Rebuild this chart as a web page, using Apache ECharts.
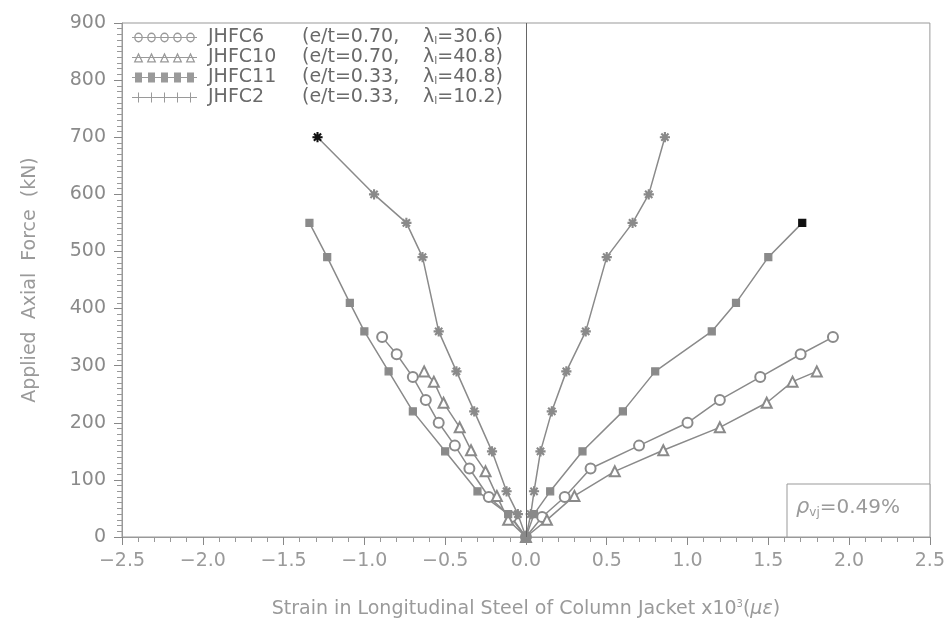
<!DOCTYPE html>
<html>
<head>
<meta charset="utf-8">
<script src="https://cdn.jsdelivr.net/npm/echarts@6/dist/echarts.min.js"></script>
<style>
  html, body { margin: 0; padding: 0; background: #fff; }
  #chart { width: 948px; height: 624px; }
</style>
</head>
<body>
<div id="chart"></div>
<script>
// specimens
const names = ['JHFC6', 'JHFC10', 'JHFC11', 'JHFC2']
const eRatio = ['0.70', '0.70', '0.33', '0.33']
const lambda = ['30.6', '40.8', '40.8', '10.2']

// load steps (kN) and strains (x10^3) for left / right gauges
const loadJHFC6 = [0, 35, 70, 120, 160, 200, 240, 280, 320, 350]
const leftJHFC6 = [0, -0.09, -0.23, -0.35, -0.44, -0.54, -0.62, -0.70, -0.80, -0.89]
const rightJHFC6 = [0, 0.10, 0.24, 0.40, 0.70, 1.00, 1.20, 1.45, 1.70, 1.90]

const loadJHFC10 = [0, 30, 72, 115, 152, 192, 235, 272, 290]
const leftJHFC10 = [0, -0.11, -0.18, -0.25, -0.34, -0.41, -0.51, -0.57, -0.63]
const rightJHFC10 = [0, 0.13, 0.30, 0.55, 0.85, 1.20, 1.49, 1.65, 1.80]

const loadJHFC11 = [0, 40, 80, 150, 220, 290, 360, 410, 490, 550]
const leftJHFC11 = [0, -0.11, -0.30, -0.50, -0.70, -0.85, -1.00, -1.09, -1.23, -1.34]
const rightJHFC11 = [0, 0.05, 0.15, 0.35, 0.60, 0.80, 1.15, 1.30, 1.50, 1.71]

const loadJHFC2 = [0, 40, 80, 150, 220, 290, 360, 490, 550, 600, 700]
const leftJHFC2 = [0, -0.05, -0.12, -0.21, -0.32, -0.43, -0.54, -0.64, -0.74, -0.94, -1.29]
const rightJHFC2 = [0, 0.03, 0.05, 0.09, 0.16, 0.25, 0.37, 0.50, 0.66, 0.76, 0.86]

const xTicks = [-2.5, -2.0, -1.5, -1.0, -0.5, 0.0, 0.5, 1.0, 1.5, 2.0, 2.5]
const yTicks = [0, 100, 200, 300, 400, 500, 600, 700, 800, 900]

const FONT = 'DejaVu Sans'
const GREY = '#8a8a8a'

// left branch from the top down to the origin, then right branch up
function branches(load, left, right) {
  const l = left.map((x, i) => [x, load[i]]).reverse()
  const r = right.map((x, i) => [x, load[i]]).slice(1)
  return l.concat(r)
}

const starPath = 'path://M4.5 0H5.5V10H4.5Z M0 4.5H10V5.5H0Z M1.1 1.8L1.8 1.1L8.9 8.2L8.2 8.9Z M8.2 1.1L8.9 1.8L1.8 8.9L1.1 8.2Z'

// legend icons: five little markers on a line
const centres = [6.5, 19.5, 32.5, 45.5, 58.5]
const baseLine = 'M0 4.6H65V5.4H0Z'
const ring = c => `M${c + 4.3} 5A4.3 4.3 0 1 1 ${c - 4.3} 5A4.3 4.3 0 1 1 ${c + 4.3} 5Z` +
  `M${c + 3} 5A3 3 0 1 0 ${c - 3} 5A3 3 0 1 0 ${c + 3} 5Z`
const tri = c => `M${c} 0.5L${c + 4.8} 9.5L${c - 4.8} 9.5Z M${c} 3.2L${c - 2.8} 8.3L${c + 2.8} 8.3Z`
const sq = c => `M${c - 3.5} 1.5H${c + 3.5}V8.5H${c - 3.5}Z`
const star = c => `M${c - 0.5} 0.8H${c + 0.5}V9.2H${c - 0.5}Z M${c - 4} 4.5H${c + 4}V5.5H${c - 4}Z`
const icon = f => 'path://' + baseLine + centres.map(f).join(' ')
const legendIcons = [icon(ring), icon(tri), icon(sq), icon(star)]

const chart = echarts.init(document.getElementById('chart'))

const common = {
  type: 'line',
  lineStyle: { color: GREY, width: 1.5 },
  itemStyle: { color: GREY, borderColor: GREY, borderWidth: 1.2 },
  emphasis: { disabled: true },
  z: 3
}

const data2 = branches(loadJHFC2, leftJHFC2, rightJHFC2)
data2[0] = { value: data2[0], itemStyle: { color: '#111', borderColor: '#111' } }
const data11 = branches(loadJHFC11, leftJHFC11, rightJHFC11)
data11[data11.length - 1] = { value: data11[data11.length - 1], itemStyle: { color: '#111', borderColor: '#111' } }

chart.setOption({
  animation: false,
  grid: { left: 122, right: 18, top: 23, bottom: 87, show: true, borderColor: '#999', borderWidth: 1 },
  legend: {
    orient: 'vertical',
    left: 132,
    top: 28,
    padding: 0,
    itemGap: 1,
    itemWidth: 65,
    itemHeight: 10,
    symbolKeepAspect: false,
    itemStyle: { borderWidth: 0 },
    data: names.map((n, i) => ({ name: n, icon: legendIcons[i], itemStyle: { color: '#9a9a9a' } })),
    formatter: name => {
      const i = names.indexOf(name)
      return `{n|${name}}{p|(e/t=${eRatio[i]},}{l|λ}{s|l}{v|=${lambda[i]})}`
    },
    textStyle: {
      fontFamily: FONT,
      fontSize: 19,
      color: '#6a6a6a',
      padding: [0, 0, 0, 6],
      rich: {
        n: { width: 94, fontSize: 19, fontFamily: FONT, color: '#6a6a6a' },
        p: { width: 121, fontSize: 19, fontFamily: FONT, color: '#6a6a6a' },
        l: { fontSize: 19, fontFamily: FONT, color: '#6a6a6a' },
        s: { fontSize: 11, fontFamily: FONT, color: '#6a6a6a', verticalAlign: 'bottom', padding: [8, 0, 0, 0] },
        v: { fontSize: 19, fontFamily: FONT, color: '#6a6a6a' }
      }
    }
  },
  xAxis: {
    type: 'value',
    min: xTicks[0],
    max: xTicks[xTicks.length - 1],
    interval: 0.5,
    name: 'Strain in Longitudinal Steel of Column Jacket x10{sup|3}({it|με})',
    nameLocation: 'middle',
    nameGap: 62,
    nameTextStyle: {
      fontFamily: FONT, fontSize: 19, color: '#9a9a9a',
      rich: {
        sup: { fontSize: 10, fontFamily: FONT, color: '#9a9a9a', verticalAlign: 'top', padding: [0, 0, 10, 0] },
        it: { fontSize: 19, fontFamily: FONT, fontStyle: 'italic', color: '#9a9a9a' }
      }
    },
    axisLine: { onZero: false, lineStyle: { color: '#999', width: 1 } },
    axisTick: { show: true, inside: false, length: 8, lineStyle: { color: '#888', width: 1 } },
    minorTick: { show: true, splitNumber: 5, length: 5, lineStyle: { color: '#999', width: 1 } },
    splitLine: { show: false },
    axisLabel: {
      margin: 15,
      fontFamily: FONT,
      fontSize: 19,
      color: '#9a9a9a',
      formatter: v => v.toFixed(1).replace('-', '\u2212')
    }
  },
  yAxis: {
    type: 'value',
    min: yTicks[0],
    max: yTicks[yTicks.length - 1],
    interval: 100,
    name: 'Applied  Axial  Force  (kN)',
    nameLocation: 'middle',
    nameGap: 82,
    nameTextStyle: { fontFamily: FONT, fontSize: 19, color: '#9a9a9a' },
    axisLine: { show: true, onZero: false, lineStyle: { color: '#999', width: 1 } },
    axisTick: { show: true, inside: false, length: 8, lineStyle: { color: '#888', width: 1 } },
    minorTick: { show: true, splitNumber: 10, length: 5, lineStyle: { color: '#999', width: 1 } },
    splitLine: { show: false },
    axisLabel: { margin: 16, fontFamily: FONT, fontSize: 19, color: '#8a8a8a' }
  },
  graphic: [{
    type: 'group',
    children: [{
      type: 'rect',
      shape: { x: 787, y: 484, width: 143, height: 53 },
      style: { fill: '#fff', stroke: '#999', lineWidth: 1 },
      z: 10
    }, {
      type: 'text',
      x: 796,
      y: 508,
      z: 11,
      style: {
        text: '{r|ρ}{s|vj}{t|=0.49%}',
        verticalAlign: 'middle',
        rich: {
          r: { fontSize: 21, fontFamily: FONT, fontStyle: 'italic', fill: '#9a9a9a' },
          s: { fontSize: 12, fontFamily: FONT, fill: '#9a9a9a', verticalAlign: 'bottom', padding: [10, 0, 0, 0] },
          t: { fontSize: 20, fontFamily: FONT, fill: '#9a9a9a' }
        }
      }
    }]
  }],
  series: [
    Object.assign({}, common, {
      name: names[0],
      symbol: 'emptyCircle',
      symbolSize: 10,
      data: branches(loadJHFC6, leftJHFC6, rightJHFC6),
      markLine: {
        silent: true,
        symbol: 'none',
        label: { show: false },
        lineStyle: { color: '#666', width: 1, type: 'solid' },
        data: [{ xAxis: 0 }]
      }
    }),
    Object.assign({}, common, {
      name: names[1],
      symbol: 'emptyTriangle',
      symbolSize: 10,
      data: branches(loadJHFC10, leftJHFC10, rightJHFC10)
    }),
    Object.assign({}, common, {
      name: names[2],
      symbol: 'rect',
      symbolSize: 7,
      data: data11
    }),
    Object.assign({}, common, {
      name: names[3],
      symbol: starPath,
      symbolSize: 9,
      data: data2
    })
  ]
})
</script>
</body>
</html>
